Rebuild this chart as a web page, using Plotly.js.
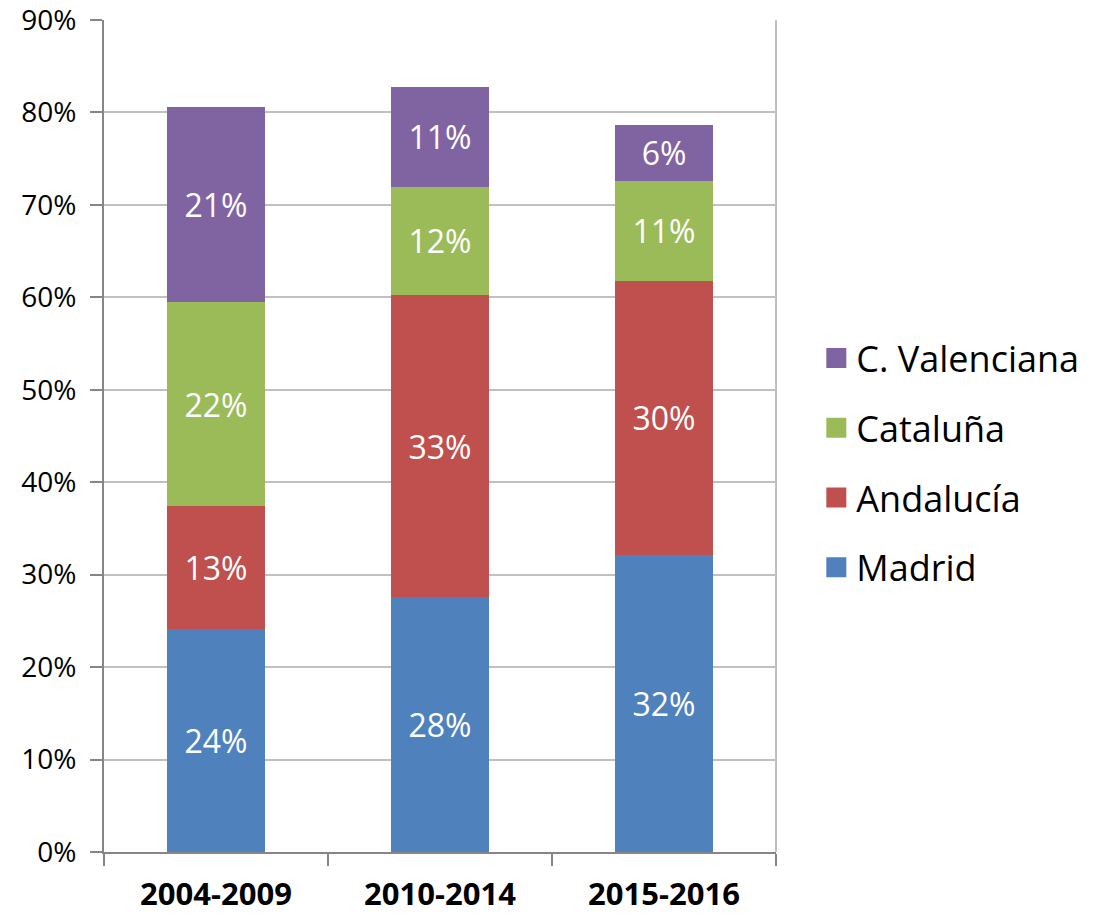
<!DOCTYPE html>
<html>
<head>
<meta charset="utf-8">
<script src="https://cdn.plot.ly/plotly-3.0.1.min.js"></script>
<style>
  html, body { margin: 0; padding: 0; background: #fff; }
  #chart { width: 1101px; height: 918px; }
</style>
</head>
<body>
<div id="chart"></div>
<script>
const periods = ['2004-2009', '2010-2014', '2015-2016'];
const madrid = [0.241, 0.2755, 0.321];
const andalucia = [0.133, 0.327, 0.297];
const cataluna = [0.221, 0.117, 0.108];
const valenciana = [0.211, 0.108, 0.0605];

const seriesNames = ['Madrid', 'Andalucía', 'Cataluña', 'C. Valenciana'];
const seriesValues = [madrid, andalucia, cataluna, valenciana];
const seriesColors = ['#4F81BD', '#C0504D', '#9BBB59', '#8064A2'];

var data = [];
for (var i = 0; i < seriesNames.length; i++) {
  data.push({
    type: 'bar',
    x: periods,
    y: seriesValues[i],
    name: seriesNames[i],
    showlegend: false,
    marker: {color: seriesColors[i]},
    texttemplate: '%{y:.0%}',
    textposition: 'inside',
    insidetextanchor: 'middle',
    constraintext: 'none',
    textfont: {color: '#ffffff', size: 32, family: 'Open Sans, sans-serif'},
    hoverinfo: 'skip'
  });
}
// legend entries with bigger squares
for (var j = seriesNames.length - 1; j >= 0; j--) {
  data.push({
    type: 'scatter',
    mode: 'markers',
    x: [null],
    y: [null],
    name: seriesNames[j],
    legendgroup: 'g' + j,
    marker: {symbol: 'square', size: 16, color: seriesColors[j],
             line: {width: 4, color: seriesColors[j]}},
    showlegend: true
  });
}

var layout = {
  width: 1101,
  height: 918,
  barmode: 'stack',
  bargap: 0.56,
  paper_bgcolor: '#ffffff',
  plot_bgcolor: '#ffffff',
  font: {family: 'Open Sans, sans-serif', color: '#000000'},
  margin: {l: 104, r: 325, t: 20, b: 66},
  xaxis: {
    type: 'category',
    showline: true,
    linecolor: '#868686',
    linewidth: 2,
    ticks: 'outside',
    tickson: 'boundaries',
    ticklen: 12,
    tickcolor: '#868686',
    tickwidth: 2,
    showgrid: false,
    ticklabelstandoff: 14,
    tickfont: {size: 31, family: 'Open Sans, sans-serif', weight: 'bold'}
  },
  yaxis: {
    range: [0, 0.9],
    dtick: 0.1,
    tickformat: '.0%',
    showline: true,
    linecolor: '#868686',
    linewidth: 2,
    ticks: 'outside',
    ticklen: 12,
    tickcolor: '#868686',
    tickwidth: 2,
    showgrid: true,
    gridcolor: '#C0C0C0',
    gridwidth: 2,
    zeroline: false,
    ticklabelstandoff: 8,
    ticklabeloverflow: 'allow',
    tickfont: {size: 28}
  },
  shapes: [{
    type: 'line', xref: 'paper', yref: 'paper',
    x0: 1, x1: 1, y0: 0, y1: 1,
    line: {color: '#C0C0C0', width: 2}
  }],
  legend: {
    x: 1.06,
    xanchor: 'left',
    y: 0.4675,
    yanchor: 'middle',
    font: {size: 36},
    tracegroupgap: 20,
    itemwidth: 30
  }
};

Plotly.newPlot('chart', data, layout, {displayModeBar: false, staticPlot: true});
</script>
</body>
</html>
